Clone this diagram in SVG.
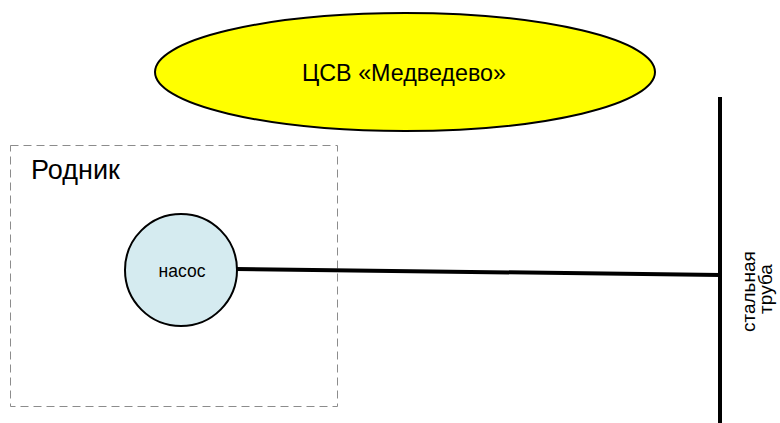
<svg xmlns="http://www.w3.org/2000/svg" width="780" height="423" viewBox="0 0 780 423">
  <style>
    text { font-family: "Liberation Sans", Arial, sans-serif; fill: #000; }
    .pipe { stroke: #000; stroke-width: 4; fill: none; }
  </style>
  <rect width="780" height="423" fill="#fff"/>

  <g id="node-csv">
    <ellipse cx="405" cy="72" rx="250" ry="59" fill="#ffff00" stroke="#000" stroke-width="2"/>
    <text x="404" y="81" font-size="23.3" text-anchor="middle">ЦСВ «Медведево»</text>
  </g>

  <g id="node-spring">
    <rect x="10.5" y="145.5" width="327" height="261" fill="none" stroke="#8c8c8c" stroke-width="1" stroke-dasharray="8,5"/>
    <text x="31" y="179" font-size="27">Родник</text>
  </g>

  <g id="node-pump">
    <circle cx="181" cy="270" r="56" fill="#d5ebf0" stroke="#000" stroke-width="2"/>
    <text x="182" y="277" font-size="17.5" text-anchor="middle">насос</text>
  </g>

  <g id="node-pipe">
    <line class="pipe" x1="720" y1="97" x2="720" y2="423"/>
    <text transform="translate(755 289) rotate(-90)" font-size="19" text-anchor="middle">
      <tspan x="0" y="0">стальная</tspan>
      <tspan x="0" y="17">труба</tspan>
    </text>
  </g>

  <g id="connectors">
    <line class="pipe" x1="236" y1="269" x2="720" y2="275"/>
  </g>
</svg>
